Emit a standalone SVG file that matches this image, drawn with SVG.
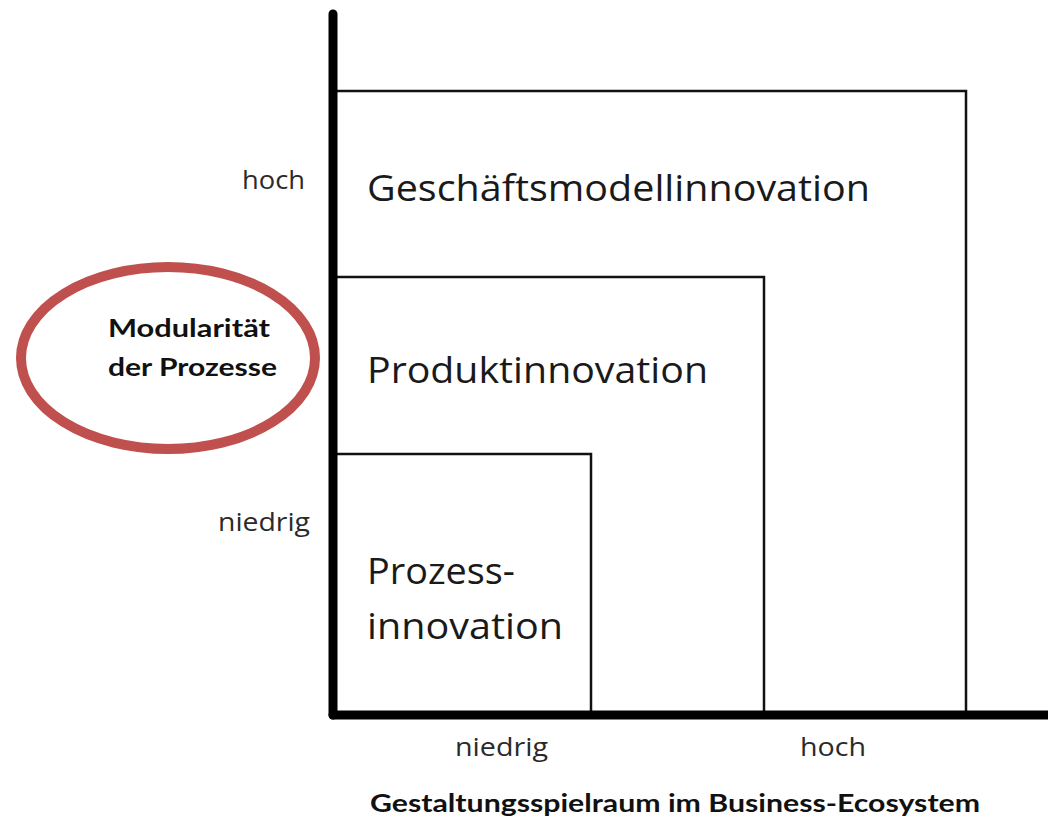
<svg xmlns="http://www.w3.org/2000/svg" width="1048" height="822" viewBox="0 0 1048 822">
<style>
.box{fill:none;stroke:#111;stroke-width:2.5}
.axis{stroke:#000;stroke-width:9;stroke-linecap:round;fill:none}
.big{font-family:"Open Sans","Liberation Sans",sans-serif;font-size:37px;fill:#1a1a1a}
.tick{font-family:"Open Sans","Liberation Sans",sans-serif;font-size:25px;fill:#2a2a2a}
.bold{font-family:Lato,"Open Sans","Liberation Sans",sans-serif;font-weight:bold;fill:#111}
</style>
<rect width="1048" height="822" fill="#fff"/>
<g id="box-geschaeftsmodell">
<rect class="box" x="333" y="91" width="633" height="623"/>
<text class="big" x="367" y="201" textLength="503" lengthAdjust="spacingAndGlyphs">Geschäftsmodellinnovation</text>
</g>
<g id="box-produkt">
<rect class="box" x="333" y="277" width="431" height="437"/>
<text class="big" x="367" y="383" textLength="341" lengthAdjust="spacingAndGlyphs">Produktinnovation</text>
</g>
<g id="box-prozess">
<rect class="box" x="333" y="454" width="258" height="260"/>
<text class="big" x="367" y="584" textLength="148" lengthAdjust="spacingAndGlyphs">Prozess-</text>
<text class="big" x="367" y="639" textLength="196" lengthAdjust="spacingAndGlyphs">innovation</text>
</g>
<g id="axes">
<line class="axis" x1="333" y1="14" x2="333" y2="715"/>
<line class="axis" x1="333" y1="715" x2="1052" y2="715"/>
</g>
<g id="y-labels">
<text class="tick" x="305" y="189" text-anchor="end" textLength="63" lengthAdjust="spacingAndGlyphs">hoch</text>
<text class="tick" x="310" y="531" text-anchor="end" textLength="92" lengthAdjust="spacingAndGlyphs">niedrig</text>
</g>
<g id="x-labels">
<text class="tick" x="455" y="756" textLength="93" lengthAdjust="spacingAndGlyphs">niedrig</text>
<text class="tick" x="800" y="756" textLength="66" lengthAdjust="spacingAndGlyphs">hoch</text>
<text class="bold" x="370" y="812" font-size="25" textLength="610" lengthAdjust="spacingAndGlyphs">Gestaltungsspielraum im Business-Ecosystem</text>
</g>
<g id="modularitaet">
<ellipse cx="168" cy="358" rx="147" ry="91" fill="none" stroke="#C0504D" stroke-width="10"/>
<text class="bold" x="108" y="337" font-size="24" textLength="162" lengthAdjust="spacingAndGlyphs">Modularität</text>
<text class="bold" x="108" y="376" font-size="24" textLength="169" lengthAdjust="spacingAndGlyphs">der Prozesse</text>
</g>
</svg>
